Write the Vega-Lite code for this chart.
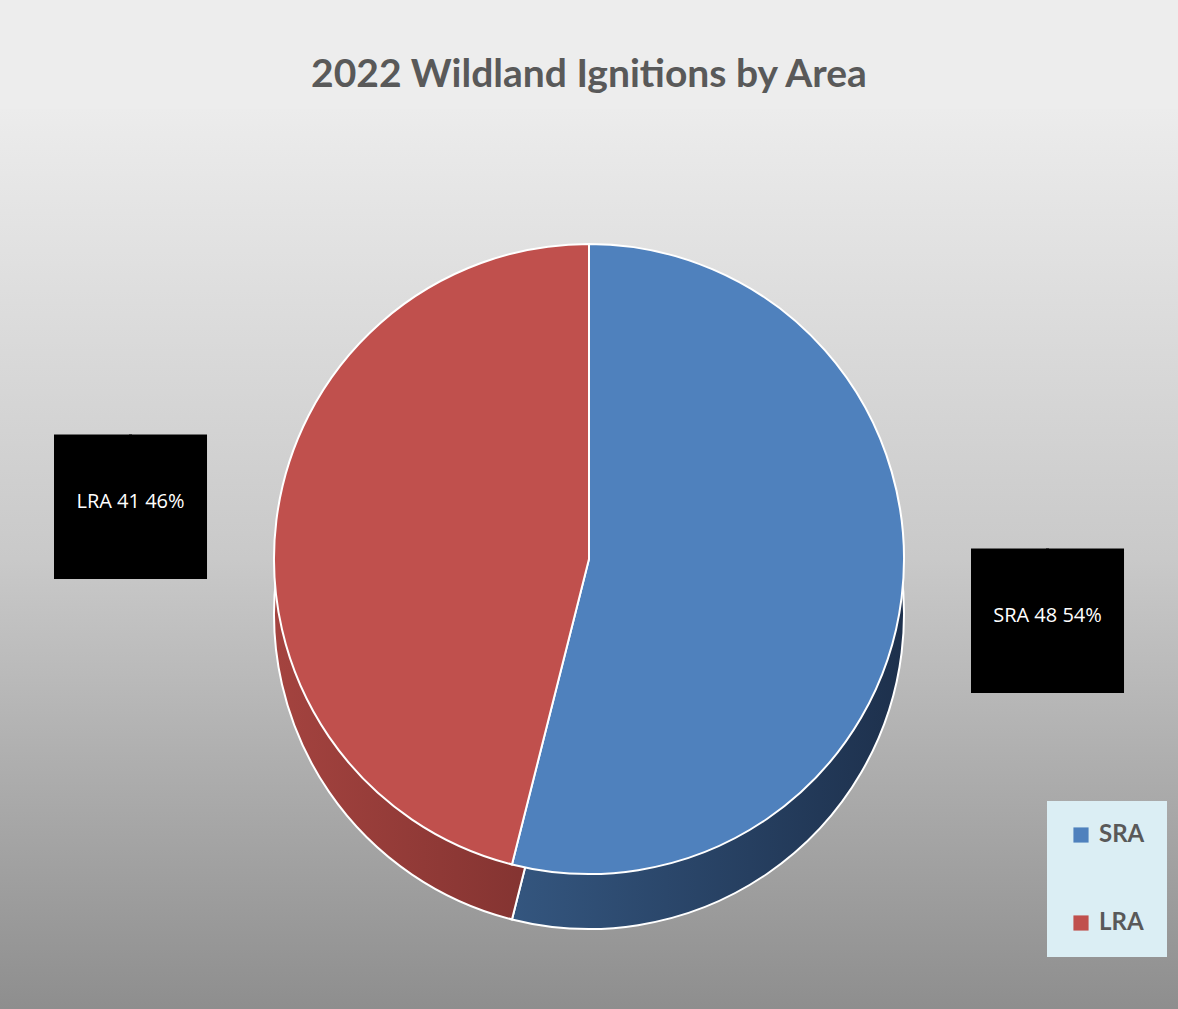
{
  "$schema": "https://vega.github.io/schema/vega-lite/v6.json",
  "width": 1178,
  "height": 1009,
  "autosize": {"type": "fit", "contains": "padding"},
  "padding": {"top": 56, "left": 0, "right": 0, "bottom": 0},
  "background": "#ededed",
  "title": {
    "text": "2022 Wildland Ignitions by Area",
    "font": "Lato",
    "fontSize": 39,
    "fontWeight": "bold",
    "color": "#595959",
    "anchor": "middle",
    "offset": 14
  },
  "datasets": {
    "d": [
      {"area": "SRA", "count": 48, "label": "SRA 48 54%"},
      {"area": "LRA", "count": 41, "label": "LRA 41 46%"}
    ]
  },
  "data": {"name": "d"},
  "layer": [
    {
      "data": {"values": [{"bg": 1}]},
      "mark": {
        "type": "rect",
        "color": {
          "gradient": "linear",
          "x1": 0, "y1": 0, "x2": 0, "y2": 1,
          "stops": [
            {"offset": 0, "color": "#ececec"},
            {"offset": 0.5, "color": "#c9c9c9"},
            {"offset": 1, "color": "#8e8e8e"}
          ]
        }
      },
      "encoding": {
        "x": {"value": 0},
        "x2": {"value": "width"},
        "y": {"value": 0},
        "y2": {"value": "height"}
      }
    },
    {
      "transform": [{"filter": "datum.area === 'SRA'"}],
      "mark": {
        "type": "arc", "outerRadius": 315, "yOffset": 55, "stroke": "#ffffff", "strokeWidth": 2,
        "color": {
          "gradient": "linear", "x1": 0, "y1": 0, "x2": 1, "y2": 0,
          "stops": [{"offset": 0, "color": "#34567f"}, {"offset": 1, "color": "#1d304c"}]
        }
      },
      "encoding": {
        "theta": {"field": "count", "type": "quantitative", "scale": {"domain": [0, 89]}},
        "theta2": {"datum": 0}
      }
    },
    {
      "transform": [{"filter": "datum.area === 'LRA'"}],
      "mark": {
        "type": "arc", "outerRadius": 315, "yOffset": 55, "stroke": "#ffffff", "strokeWidth": 2,
        "color": {
          "gradient": "linear", "x1": 0, "y1": 0, "x2": 1, "y2": 0,
          "stops": [{"offset": 0, "color": "#a4433f"}, {"offset": 1, "color": "#7c302e"}]
        }
      },
      "encoding": {
        "theta": {"datum": 48, "scale": {"domain": [0, 89]}},
        "theta2": {"datum": 89}
      }
    },
    {
      "mark": {"type": "arc", "outerRadius": 315, "stroke": "#ffffff", "strokeWidth": 2},
      "encoding": {
        "theta": {"field": "count", "type": "quantitative", "stack": true},
        "order": {"field": "area", "sort": "descending"},
        "color": {
          "field": "area",
          "type": "nominal",
          "scale": {"domain": ["SRA", "LRA"], "range": ["#4f81bd", "#c0504d"]},
          "legend": {
            "title": null,
            "orient": "none",
            "legendX": 1047,
            "legendY": 692,
            "fillColor": "#dbeef4",
            "padding": 22,
            "rowPadding": 64,
            "symbolType": "square",
            "symbolSize": 230,
            "symbolStrokeWidth": 0,
            "labelFont": "Lato",
            "labelFontSize": 24,
            "labelFontWeight": "bold",
            "labelColor": "#595959",
            "labelOffset": 6
          }
        }
      }
    },
    {
      "mark": {"type": "text", "radius": 462, "text": "██", "font": "Liberation Mono", "fontSize": 125, "color": "#000000", "stroke": "#000000", "strokeWidth": 3, "align": "center", "baseline": "middle"},
      "encoding": {
        "theta": {"field": "count", "type": "quantitative", "stack": true},
        "order": {"field": "area", "sort": "descending"}
      }
    },
    {
      "mark": {"type": "text", "radius": 462, "font": "Open Sans", "fontSize": 20, "color": "#ffffff", "align": "center", "baseline": "middle"},
      "encoding": {
        "theta": {"field": "count", "type": "quantitative", "stack": true},
        "order": {"field": "area", "sort": "descending"},
        "text": {"field": "label", "type": "nominal"}
      }
    }
  ],
  "resolve": {"scale": {"color": "independent", "theta": "independent"}},
  "config": {"view": {"stroke": null}}
}
